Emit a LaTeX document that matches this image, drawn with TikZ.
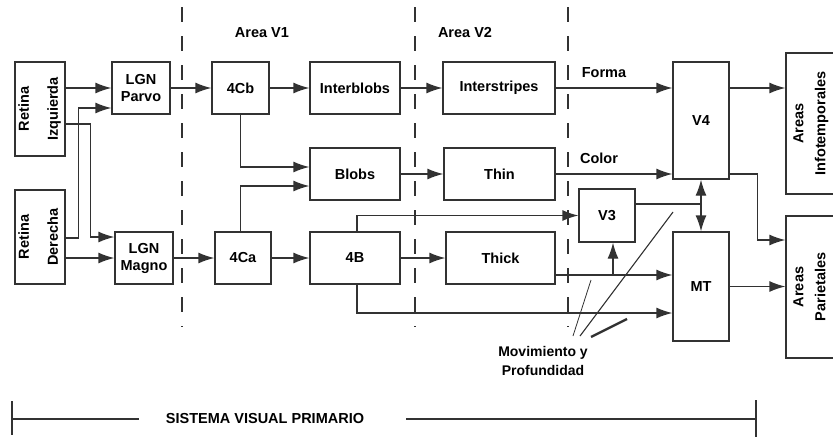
\documentclass[tikz,border=0pt]{standalone}
\usepackage{fontspec}
\setmainfont{Liberation Sans}
\usepackage{graphicx}
\usetikzlibrary{arrows.meta,calc}
\definecolor{vline}{RGB}{50,50,50}

\begin{document}
\begin{tikzpicture}[x=1pt,y=-1pt,
  font=\fontsize{14.5}{17}\selectfont\bfseries,
  box/.style={draw=vline,line width=1.3pt,inner sep=2pt,align=center},
  conn/.style={draw=vline,line width=1.3pt,-{Latex[length=16pt,width=11pt]}},
  twoway/.style={draw=vline,line width=1.3pt,{Latex[length=16pt,width=11pt]}-{Latex[length=16pt,width=11pt]}},
  plain/.style={draw=vline,line width=1.3pt},
  sep/.style={draw=vline,line width=1.1pt,dash pattern=on 15pt off 14pt},
  lbl/.style={inner sep=0pt}]
  \useasboundingbox (0,0) rectangle (833,437);

  % retinas and LGN
  \node[box,minimum width=46,minimum height=94] (retizq) at (40,109)
    {\rotatebox{90}{\begin{tabular}{@{}c@{}}Retina\\[12pt]Izquierda\end{tabular}}};
  \node[box,minimum width=46,minimum height=94] (retder) at (40,237)
    {\rotatebox{90}{\begin{tabular}{@{}c@{}}Retina\\[12pt]Derecha\end{tabular}}};
  \node[box,minimum width=58,minimum height=52] (lgnp) at (141,88) {LGN\\Parvo};
  \node[box,minimum width=58,minimum height=52] (lgnm) at (144,258) {LGN\\Magno};

  % area V1
  \node[box,minimum width=57,minimum height=52] (c4b) at (240.5,88) {4Cb};
  \node[box,minimum width=56,minimum height=52] (c4a) at (243,258) {4Ca};
  \node[box,minimum width=90,minimum height=52] (interb) at (355,88) {Interblobs};
  \node[box,minimum width=90,minimum height=52] (blobs) at (355,174) {Blobs};
  \node[box,minimum width=90,minimum height=52] (b4) at (355,258) {4B};

  % area V2
  \node[box,minimum width=112,minimum height=52] (inters) at (499,88) {Interstripes};
  \node[box,minimum width=111,minimum height=52] (thin) at (499.5,174) {Thin};
  \node[box,minimum width=109,minimum height=52] (thick) at (500.5,258) {Thick};

  % higher areas
  \node[box,minimum width=56,minimum height=53] (v3) at (607,215.5) {V3};
  \node[box,minimum width=56,minimum height=117] (v4) at (701,120.5) {V4};
  \node[box,minimum width=56,minimum height=109] (mt) at (701,286.5) {MT};
  \node[box,minimum width=60,minimum height=141] (areasi) at (816,123.5)
    {\hspace*{-10pt}\rotatebox{90}{\begin{tabular}{@{}c@{}}Areas\\[5pt]Infotemporales\end{tabular}}};
  \node[box,minimum width=60,minimum height=142] (areasp) at (816,287)
    {\hspace*{-10pt}\rotatebox{90}{\begin{tabular}{@{}c@{}}Areas\\[5pt]Parietales\end{tabular}}};

  % labels
  \node[lbl] (areav1) at (262,33) {Area V1};
  \node[lbl] (areav2) at (465,33) {Area V2};
  \node[lbl] (forma) at (604,73) {Forma};
  \node[lbl] (color) at (599,158) {Color};
  \node[lbl,align=center,font=\fontsize{14}{19}\selectfont\bfseries] (mov) at (543,361)
    {Movimiento y\\Profundidad};
  \node[lbl] (sistema) at (265,419) {SISTEMA VISUAL PRIMARIO};

  % separators
  \draw[sep] (182,7) -- (182,327);
  \draw[sep] (415,7) -- (415,327);
  \draw[sep] (568,7) -- (568,327);

  % retina -> LGN
  \draw[conn] (retizq.east |- lgnp.west) -- (lgnp.west);
  \draw[conn] ([yshift=-15pt]retizq.east) -- ++(25,0) |- ([yshift=21pt]lgnm.west);
  \draw[conn] ([yshift=-1pt]retder.east) -- ++(13,0) |- ([yshift=-20pt]lgnp.west);
  \draw[conn] (retder.east |- lgnm.west) -- (lgnm.west);

  % LGN -> V1 -> V2
  \draw[conn] (lgnp) -- (c4b);
  \draw[conn] (lgnm) -- (c4a);
  \draw[conn] (c4b) -- (interb);
  \draw[conn] (c4b.south) |- ([yshift=7pt]blobs.west);
  \draw[conn] (c4a.north -| c4b.south) |- ([yshift=-12pt]blobs.west);
  \draw[conn] (c4a) -- (b4);
  \draw[conn] (interb) -- (inters);
  \draw[conn] (blobs) -- (thin);
  \draw[conn] (b4) -- (thick);
  \draw[conn] ([xshift=2pt]b4.north) |- (v3.west);
  \draw[conn] ([xshift=2pt]b4.south) |- ([yshift=-26.5pt]mt.west);

  % V2 -> V3, V4, MT
  \draw[conn] (inters) -- (v4.west |- inters);
  \draw[conn] (thin) -- (v4.west |- thin);
  \draw[conn] ([yshift=-17pt]thick.east) coordinate (thk) -- (mt.west |- thk);
  \draw[conn] ([xshift=6pt]v3.south |- thk) -- ([xshift=6pt]v3.south);
  \draw[plain] ([yshift=11.5pt]v3.east) coordinate (v3o) -- (v4.south |- v3o);
  \draw[twoway] (v4.south) -- (mt.north);

  % to association areas
  \draw[conn] (v4.east |- inters) -- (areasi.west |- inters);
  \draw[conn] (v4.east |- thin) -- ++(28,0) |- ([yshift=47pt]areasp.west);
  \draw[conn] (mt.east) -- (areasp.west |- mt.east);

  % pointer strokes
  \coordinate (p1) at (591,280);
  \coordinate (p2) at (673,212);
  \coordinate (p3) at (627,319);
  \draw[draw=vline,line width=0.8pt] (573,336) -- (p1);
  \draw[draw=vline,line width=1.1pt] (580,336) -- (p2);
  \draw[draw=vline,line width=2.4pt] (591,337) -- (p3);

  % bracket
  \coordinate (bl) at (12,419);
  \coordinate (br) at (756,419);
  \draw[plain] (bl) -- ([xshift=-27pt]sistema.west);
  \draw[plain] ([xshift=42pt]sistema.east) -- (br);
  \draw[plain] ([yshift=18pt]bl) -- ([yshift=-16pt]bl);
  \draw[plain] ([yshift=19pt]br) -- ([yshift=-18pt]br);
\end{tikzpicture}
\end{document}
